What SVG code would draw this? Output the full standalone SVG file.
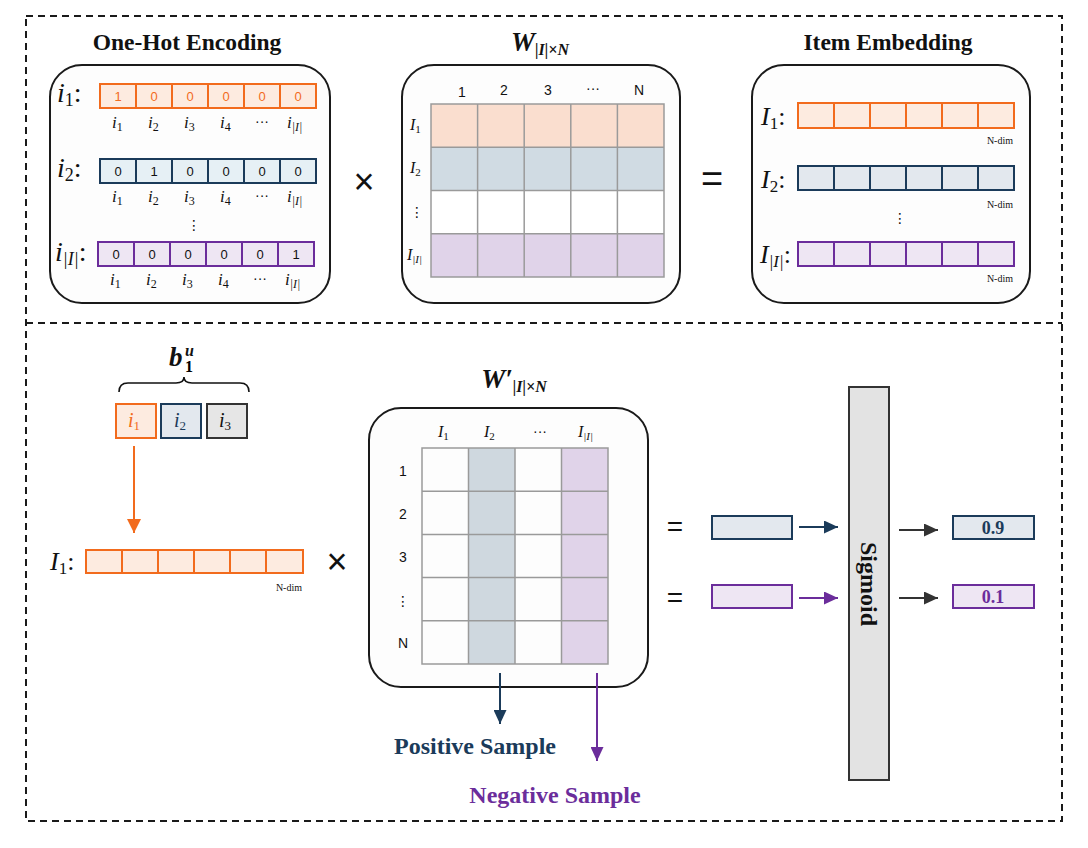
<svg xmlns="http://www.w3.org/2000/svg" width="1088" height="848" viewBox="0 0 1088 848">
<style>
.frame{fill:none;stroke:#1a1a1a;stroke-width:2;stroke-dasharray:7,5}
.panel{fill:#fdfdfd;stroke:#1a1a1a;stroke-width:2}
.title{font-family:"Liberation Serif",serif;font-weight:bold;font-size:23.5px;fill:#111;text-anchor:middle}
.mi{font-family:"Liberation Serif",serif;font-style:italic;fill:#111}
.num{font-family:"Liberation Sans",Arial,sans-serif;font-size:13px;fill:#111;text-anchor:middle}
.hdr{font-family:"Liberation Sans",Arial,sans-serif;font-size:14px;fill:#111;text-anchor:middle}
.ndim{font-family:"Liberation Serif",serif;font-size:10px;fill:#111;text-anchor:end}
.op{font-family:"Liberation Sans",Arial,sans-serif;fill:#111;text-anchor:middle}
.co{fill:#fdebe0;stroke:#f26b1d;stroke-width:2}
.cb{fill:#e3e8ee;stroke:#1b3b5a;stroke-width:2}
.cp{fill:#eee6f3;stroke:#6b2d9b;stroke-width:2}
.cg{fill:#e6e6e6;stroke:#333;stroke-width:2}
.g{stroke:#9a9a9a;stroke-width:1.5}
.lbl{font-family:"Liberation Serif",serif;font-weight:bold;font-size:24px;text-anchor:middle}
</style>
<defs>
<marker id="aO" markerUnits="userSpaceOnUse" markerWidth="14" markerHeight="14" viewBox="0 0 14 14" refX="14" refY="7" orient="auto"><path d="M0,0 L14,7 L0,14 z" fill="#f26b1d"/></marker>
<marker id="aB" markerUnits="userSpaceOnUse" markerWidth="14" markerHeight="13" viewBox="0 0 14 13" refX="14" refY="6.5" orient="auto"><path d="M0,0 L14,6.5 L0,13 z" fill="#1b3b5a"/></marker>
<marker id="aP" markerUnits="userSpaceOnUse" markerWidth="14" markerHeight="13" viewBox="0 0 14 13" refX="14" refY="6.5" orient="auto"><path d="M0,0 L14,6.5 L0,13 z" fill="#6b2d9b"/></marker>
<marker id="aK" markerUnits="userSpaceOnUse" markerWidth="14" markerHeight="13" viewBox="0 0 14 13" refX="14" refY="6.5" orient="auto"><path d="M0,0 L14,6.5 L0,13 z" fill="#333"/></marker>
</defs>
<rect width="1088" height="848" fill="#fff"/>
<g id="frames">
<rect class="frame" x="26" y="16" width="1036" height="805"/>
<line class="frame" x1="26" y1="323" x2="1062" y2="323"/>
</g>

<g id="onehot">
<text class="title" x="187" y="50">One-Hot Encoding</text>
<rect class="panel" x="50" y="65" width="280" height="238" rx="32"/>
<text class="mi" x="57" y="102" font-size="28">i<tspan font-size="18" dy="4" font-style="normal">1</tspan><tspan dy="-4" font-style="normal">:</tspan></text>
<g>
<rect class="co" x="100" y="84" width="36" height="24"/><rect class="co" x="136" y="84" width="36" height="24"/><rect class="co" x="172" y="84" width="36" height="24"/><rect class="co" x="208" y="84" width="36" height="24"/><rect class="co" x="244" y="84" width="36" height="24"/><rect class="co" x="280" y="84" width="36" height="24"/>
</g>
<g>
<text class="num" style="fill:#f26b1d" x="118" y="101">1</text><text class="num" style="fill:#f26b1d" x="154" y="101">0</text><text class="num" style="fill:#f26b1d" x="190" y="101">0</text><text class="num" style="fill:#f26b1d" x="226" y="101">0</text><text class="num" style="fill:#f26b1d" x="262" y="101">0</text><text class="num" style="fill:#f26b1d" x="298" y="101">0</text>
</g>
<g font-size="17">
<text class="mi" x="112" y="128">i<tspan font-size="12" dy="3" font-style="normal">1</tspan></text>
<text class="mi" x="148" y="128">i<tspan font-size="12" dy="3" font-style="normal">2</tspan></text>
<text class="mi" x="184" y="128">i<tspan font-size="12" dy="3" font-style="normal">3</tspan></text>
<text class="mi" x="220" y="128">i<tspan font-size="12" dy="3" font-style="normal">4</tspan></text>
<text class="hdr" x="262" y="126" font-size="12">···</text>
<text class="mi" x="287" y="128">i<tspan font-size="12" dy="3">|I|</tspan></text>
</g>

<text class="mi" x="57" y="177" font-size="28">i<tspan font-size="18" dy="4" font-style="normal">2</tspan><tspan dy="-4" font-style="normal">:</tspan></text>
<g>
<rect class="cb" style="fill:#e6f0f5" x="100" y="159" width="36" height="24"/><rect class="cb" style="fill:#e6f0f5" x="136" y="159" width="36" height="24"/><rect class="cb" style="fill:#e6f0f5" x="172" y="159" width="36" height="24"/><rect class="cb" style="fill:#e6f0f5" x="208" y="159" width="36" height="24"/><rect class="cb" style="fill:#e6f0f5" x="244" y="159" width="36" height="24"/><rect class="cb" style="fill:#e6f0f5" x="280" y="159" width="36" height="24"/>
</g>
<text class="num" x="118" y="176">0</text><text class="num" x="154" y="176">1</text><text class="num" x="190" y="176">0</text><text class="num" x="226" y="176">0</text><text class="num" x="262" y="176">0</text><text class="num" x="298" y="176">0</text>
<g font-size="17">
<text class="mi" x="112" y="202">i<tspan font-size="12" dy="3" font-style="normal">1</tspan></text>
<text class="mi" x="148" y="202">i<tspan font-size="12" dy="3" font-style="normal">2</tspan></text>
<text class="mi" x="184" y="202">i<tspan font-size="12" dy="3" font-style="normal">3</tspan></text>
<text class="mi" x="220" y="202">i<tspan font-size="12" dy="3" font-style="normal">4</tspan></text>
<text class="hdr" x="262" y="200" font-size="12">···</text>
<text class="mi" x="287" y="202">i<tspan font-size="12" dy="3">|I|</tspan></text>
</g>
<text class="hdr" x="194" y="230" style="font-family:'DejaVu Sans',sans-serif" font-size="14">⋮</text>

<text class="mi" x="55" y="261" font-size="28">i<tspan font-size="18" dy="4">|I|</tspan><tspan dy="-4" font-style="normal">:</tspan></text>
<g>
<rect class="cp" x="98" y="242" width="36" height="24"/><rect class="cp" x="134" y="242" width="36" height="24"/><rect class="cp" x="170" y="242" width="36" height="24"/><rect class="cp" x="206" y="242" width="36" height="24"/><rect class="cp" x="242" y="242" width="36" height="24"/><rect class="cp" x="278" y="242" width="36" height="24"/>
</g>
<text class="num" x="116" y="259">0</text><text class="num" x="152" y="259">0</text><text class="num" x="188" y="259">0</text><text class="num" x="224" y="259">0</text><text class="num" x="260" y="259">0</text><text class="num" x="296" y="259">1</text>
<g font-size="17">
<text class="mi" x="110" y="285">i<tspan font-size="12" dy="3" font-style="normal">1</tspan></text>
<text class="mi" x="146" y="285">i<tspan font-size="12" dy="3" font-style="normal">2</tspan></text>
<text class="mi" x="182" y="285">i<tspan font-size="12" dy="3" font-style="normal">3</tspan></text>
<text class="mi" x="218" y="285">i<tspan font-size="12" dy="3" font-style="normal">4</tspan></text>
<text class="hdr" x="260" y="283" font-size="12">···</text>
<text class="mi" x="285" y="285">i<tspan font-size="12" dy="3">|I|</tspan></text>
</g>
</g>

<text id="times1" class="op" x="364" y="194" font-size="36">×</text>

<g id="wmatrix">
<text class="mi" x="540" y="51" font-size="27" font-weight="bold" text-anchor="middle">W<tspan font-size="16" dy="4">|I|×N</tspan></text>
<rect class="panel" x="402" y="65" width="278" height="238" rx="32"/>
<rect x="431" y="104" width="233" height="43.25" fill="#fadecf"/>
<rect x="431" y="147.25" width="233" height="43.25" fill="#d0dbe3"/>
<rect x="431" y="190.5" width="233" height="43.25" fill="#ffffff"/>
<rect x="431" y="233.75" width="233" height="43.25" fill="#e0d3e9"/>
<g class="g" fill="none">
<rect x="431" y="104" width="233" height="173"/>
<line x1="477.6" y1="104" x2="477.6" y2="277"/><line x1="524.2" y1="104" x2="524.2" y2="277"/><line x1="570.8" y1="104" x2="570.8" y2="277"/><line x1="617.4" y1="104" x2="617.4" y2="277"/>
<line x1="431" y1="147.25" x2="664" y2="147.25"/><line x1="431" y1="190.5" x2="664" y2="190.5"/><line x1="431" y1="233.75" x2="664" y2="233.75"/>
</g>
<text class="hdr" x="462" y="97">1</text><text class="hdr" x="504" y="95">2</text><text class="hdr" x="548" y="95">3</text><text class="hdr" x="593" y="93">···</text><text class="hdr" x="639" y="95">N</text>
<text class="mi" x="410" y="130" font-size="16">I<tspan font-size="11" dy="3" font-style="normal">1</tspan></text>
<text class="mi" x="410" y="173" font-size="16">I<tspan font-size="11" dy="3" font-style="normal">2</tspan></text>
<text class="hdr" x="417" y="217" style="font-family:'DejaVu Sans',sans-serif" font-size="13">⋮</text>
<text class="mi" x="407" y="260" font-size="16">I<tspan font-size="11" dy="3">|I|</tspan></text>
</g>

<text id="eq1" class="op" x="712" y="192" font-size="38">=</text>

<g id="embedding">
<text class="title" x="888" y="50">Item Embedding</text>
<rect class="panel" x="752" y="65" width="278" height="238" rx="32"/>
<text class="mi" x="761" y="125" font-size="26">I<tspan font-size="17" dy="4" font-style="normal">1</tspan><tspan dy="-4" font-style="normal">:</tspan></text>
<rect class="co" x="798" y="103" width="36" height="25"/><rect class="co" x="834" y="103" width="36" height="25"/><rect class="co" x="870" y="103" width="36" height="25"/><rect class="co" x="906" y="103" width="36" height="25"/><rect class="co" x="942" y="103" width="36" height="25"/><rect class="co" x="978" y="103" width="36" height="25"/>
<text class="ndim" x="1013" y="144">N-dim</text>
<text class="mi" x="761" y="188" font-size="26">I<tspan font-size="17" dy="4" font-style="normal">2</tspan><tspan dy="-4" font-style="normal">:</tspan></text>
<rect class="cb" x="798" y="166" width="36" height="24"/><rect class="cb" x="834" y="166" width="36" height="24"/><rect class="cb" x="870" y="166" width="36" height="24"/><rect class="cb" x="906" y="166" width="36" height="24"/><rect class="cb" x="942" y="166" width="36" height="24"/><rect class="cb" x="978" y="166" width="36" height="24"/>
<text class="ndim" x="1013" y="208">N-dim</text>
<text class="hdr" x="900" y="223" style="font-family:'DejaVu Sans',sans-serif" font-size="14">⋮</text>
<text class="mi" x="760" y="263" font-size="26">I<tspan font-size="17" dy="4">|I|</tspan><tspan dy="-4" font-style="normal">:</tspan></text>
<rect class="cp" x="798" y="242" width="36" height="24"/><rect class="cp" x="834" y="242" width="36" height="24"/><rect class="cp" x="870" y="242" width="36" height="24"/><rect class="cp" x="906" y="242" width="36" height="24"/><rect class="cp" x="942" y="242" width="36" height="24"/><rect class="cp" x="978" y="242" width="36" height="24"/>
<text class="ndim" x="1013" y="282">N-dim</text>
</g>

<g id="basket">
<text class="mi" x="169" y="366" font-size="27" font-weight="bold">b</text>
<text class="mi" x="185" y="356" font-size="16" font-weight="bold">u</text>
<text x="185" y="372" font-size="16" font-weight="bold" font-family="Liberation Serif, serif">1</text>
<path d="M119,392 Q119,383 128,383 L176,383 Q184,383 184,377 Q184,383 192,383 L240,383 Q249,383 249,392" fill="none" stroke="#111" stroke-width="1.6"/>
<rect class="co" x="116" y="404" width="40" height="34"/>
<text class="mi" x="128" y="427" font-size="20" style="fill:#f26b1d">i<tspan font-size="13" dy="3" font-style="normal">1</tspan></text>
<rect class="cb" x="161" y="404" width="40" height="34"/>
<text class="mi" x="174" y="427" font-size="20" style="fill:#1b3b5a">i<tspan font-size="13" dy="3" font-style="normal">2</tspan></text>
<rect class="cg" x="207" y="404" width="40" height="34"/>
<text class="mi" x="219" y="427" font-size="20">i<tspan font-size="13" dy="3" font-style="normal">3</tspan></text>
</g>

<g id="emb1">
<text class="mi" x="50" y="570" font-size="26">I<tspan font-size="17" dy="4" font-style="normal">1</tspan><tspan dy="-4" font-style="normal">:</tspan></text>
<rect class="co" x="86" y="550" width="36" height="23"/><rect class="co" x="122" y="550" width="36" height="23"/><rect class="co" x="158" y="550" width="36" height="23"/><rect class="co" x="194" y="550" width="36" height="23"/><rect class="co" x="230" y="550" width="36" height="23"/><rect class="co" x="266" y="550" width="37" height="23"/>
<text class="ndim" x="302" y="591">N-dim</text>
</g>

<text id="times2" class="op" x="337" y="574" font-size="36">×</text>

<g id="wprime">
<text class="mi" x="514" y="388" font-size="27" font-weight="bold" text-anchor="middle">W′<tspan font-size="16" dy="4">|I|×N</tspan></text>
<rect class="panel" x="369" y="408" width="279" height="279" rx="32"/>
<rect x="468.5" y="448" width="46.5" height="216" fill="#cfd8df"/>
<rect x="561.5" y="448" width="46.5" height="216" fill="#e0d3e9"/>
<g class="g" fill="none">
<rect x="422" y="448" width="186" height="216"/>
<line x1="468.5" y1="448" x2="468.5" y2="664"/><line x1="515" y1="448" x2="515" y2="664"/><line x1="561.5" y1="448" x2="561.5" y2="664"/>
<line x1="422" y1="491.2" x2="608" y2="491.2"/><line x1="422" y1="534.4" x2="608" y2="534.4"/><line x1="422" y1="577.6" x2="608" y2="577.6"/><line x1="422" y1="620.8" x2="608" y2="620.8"/>
</g>
<text class="mi" x="438" y="437" font-size="16">I<tspan font-size="11" dy="3" font-style="normal">1</tspan></text>
<text class="mi" x="484" y="437" font-size="16">I<tspan font-size="11" dy="3" font-style="normal">2</tspan></text>
<text class="hdr" x="540" y="436">···</text>
<text class="mi" x="578" y="437" font-size="16">I<tspan font-size="11" dy="3">|I|</tspan></text>
<text class="hdr" x="403" y="476">1</text><text class="hdr" x="403" y="519">2</text><text class="hdr" x="403" y="562">3</text>
<text class="hdr" x="403" y="606" style="font-family:'DejaVu Sans',sans-serif" font-size="13">⋮</text>
<text class="hdr" x="403" y="648">N</text>
</g>

<g id="results">
<text class="op" x="675" y="536" font-size="28">=</text>
<text class="op" x="675" y="607" font-size="28">=</text>
<rect class="cb" x="712" y="516" width="80" height="23"/>
<rect class="cp" x="712" y="585" width="80" height="23"/>
</g>

<g id="sigmoid">
<rect x="849" y="387" width="40" height="393" fill="#e3e3e3" stroke="#333" stroke-width="2"/>
<text transform="translate(861,584) rotate(90)" font-family="Liberation Serif, serif" font-weight="bold" font-size="24" text-anchor="middle" fill="#111">Sigmoid</text>
</g>

<g id="outputs">
<rect class="cb" x="953" y="516" width="81" height="23"/>
<text x="993" y="534" font-family="Liberation Serif, serif" font-weight="bold" font-size="18" text-anchor="middle" fill="#1b3b5a">0.9</text>
<rect class="cp" x="953" y="585" width="81" height="23"/>
<text x="993" y="603" font-family="Liberation Serif, serif" font-weight="bold" font-size="18" text-anchor="middle" fill="#6b2d9b">0.1</text>
</g>

<g id="samples">
<text class="lbl" x="475" y="754" fill="#1b3b5a">Positive Sample</text>
<text class="lbl" x="555" y="803" fill="#6b2d9b">Negative Sample</text>
</g>

<g id="connectors" fill="none">
<line x1="134" y1="446" x2="134" y2="533" stroke="#f26b1d" stroke-width="2" marker-end="url(#aO)"/>
<line x1="500" y1="673" x2="500" y2="724" stroke="#1b3b5a" stroke-width="2" marker-end="url(#aB)"/>
<line x1="597" y1="673" x2="597" y2="761" stroke="#6b2d9b" stroke-width="2" marker-end="url(#aP)"/>
<line x1="799" y1="527" x2="838" y2="527" stroke="#1b3b5a" stroke-width="2" marker-end="url(#aB)"/>
<line x1="799" y1="598" x2="838" y2="598" stroke="#6b2d9b" stroke-width="2" marker-end="url(#aP)"/>
<line x1="899" y1="530" x2="938" y2="530" stroke="#333" stroke-width="2" marker-end="url(#aK)"/>
<line x1="899" y1="598" x2="938" y2="598" stroke="#333" stroke-width="2" marker-end="url(#aK)"/>
</g>
</svg>
